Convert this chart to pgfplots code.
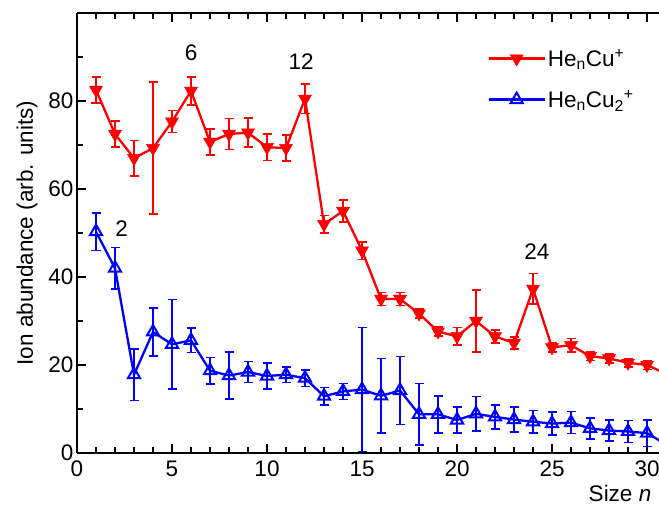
\documentclass[border=0pt]{standalone}
\usepackage{pgfplots}
\pgfplotsset{compat=1.18}
\usepackage{pgfplotstable}
\usepackage{fontspec}
\setmainfont{Liberation Sans}
\usetikzlibrary{calc}
\definecolor{myred}{RGB}{255,0,0}
\definecolor{myblue}{RGB}{0,0,255}
\newcommand{\bigfont}{\fontsize{22.5bp}{26bp}\selectfont}
\pgfplotstableread{
n y e
1 82.5 3
2 72.5 3
3 67 4
4 69.3 15
5 75.3 2.5
6 82.3 3.2
7 70.7 3
8 72.5 3.5
9 72.8 3.3
10 69.5 3
11 69.3 3
12 80.5 3.3
13 52 2
14 55 2.5
15 46 2
16 35 1.5
17 35 1.5
18 31.7 1
19 27.6 1
20 26.5 2
21 30 7
22 26.5 1.5
23 25 1.3
24 37.3 3.5
25 24 1
26 24.5 1.5
27 22 1
28 21.5 1
29 20.5 1
30 20 1
31 18 1
}\redtable
\pgfplotstableread{
n y e
1 50.3 4.3
2 42 4.7
3 17.8 5.9
4 27.5 5.4
5 24.7 10.2
6 25.6 2.8
7 18.7 3
8 17.6 5.3
9 18.4 2.4
10 17.5 3
11 17.8 1.8
12 17 1.9
13 12.9 2
14 14 1.8
15 14.4 14.1
16 13 8.5
17 14.2 7.7
18 8.8 7
19 8.8 4.2
20 7.5 3
21 8.9 3.9
22 8.2 2.7
23 7.6 2.8
24 7.1 2.6
25 6.7 2.6
26 6.9 2.5
27 5.6 2.4
28 5.1 2.4
29 4.9 2.5
30 4.5 3
31 2 2
}\bluetable
\begin{document}
\begin{tikzpicture}[font=\bigfont]
\begin{axis}[
  name=ax,
  scale only axis,
  width=582bp, height=440bp,
  xmin=0, xmax=30.63, ymin=0, ymax=100,
  axis x line=box, axis y line*=left,
  axis line style={line width=2bp},
  tick align=inside,
  xtick={0,5,...,30}, minor x tick num=4,
  ytick={0,20,40,60,80}, minor ytick={10,30,50,70,90},
  major tick length=9bp, minor tick length=6bp,
  every tick/.style={black, line width=1.8bp},
  xtick pos=both, ytick pos=left,
  /pgf/number format/assume math mode=true,
  tick label style={font=\bigfont},
  xticklabel style={yshift=-4bp},
  label style={font=\bigfont},
  xlabel={Size \textit{n}},
  every axis x label/.style={at={(rel axis cs:0.933,0)}, anchor=center, yshift=-40bp},
  ylabel={Ion abundance (arb. units)},
  every axis y label/.style={at={(rel axis cs:0,0.5)}, xshift=-50bp, rotate=90, anchor=center},
  legend style={at={(rel axis cs:0.705,0.922)}, anchor=north west, draw=none, fill=none,
    font=\bigfont, row sep=19bp, inner sep=0pt},
  legend cell align=left,
  legend image code/.code={\draw[mark repeat=2,mark phase=2] plot coordinates {(0bp,0bp) (28bp,0bp) (56bp,0bp)};},
]
\addplot[myred, line width=2.3bp, mark=triangle*, mark size=7.5bp,
  mark options={rotate=180, solid, fill=myred, line width=0.5bp},
  error bars/.cd, y dir=both, y explicit,
  error bar style={line width=1.6bp, myred},
  error mark options={rotate=90, mark size=4.5bp, line width=1.6bp, myred}]
  table[x=n, y=y, y error=e] {\redtable};
\addlegendentry{He\textsubscript{n}Cu\textsuperscript{+}}
\addplot[myblue, line width=2.3bp, mark=triangle, mark size=7bp,
  mark options={solid, fill=white, line width=2bp},
  error bars/.cd, y dir=both, y explicit,
  error bar style={line width=1.6bp, myblue},
  error mark options={rotate=90, mark size=4.5bp, line width=1.6bp, myblue}]
  table[x=n, y=y, y error=e] {\bluetable};
\addlegendentry{He\textsubscript{n}Cu\textsubscript{2}\textsuperscript{+}}
\node[font=\bigfont] at (axis cs:6,90.9) {6};
\node[font=\bigfont] at (axis cs:11.8,88.9) {12};
\node[font=\bigfont] at (axis cs:2.35,51.1) {2};
\node[font=\bigfont] at (axis cs:24.2,45.7) {24};
\end{axis}
\pgfresetboundingbox
\path ($(ax.south west)+(-77bp,-52bp)$) rectangle ($(ax.north east)+(0bp,13bp)$);
\end{tikzpicture}
\end{document}
